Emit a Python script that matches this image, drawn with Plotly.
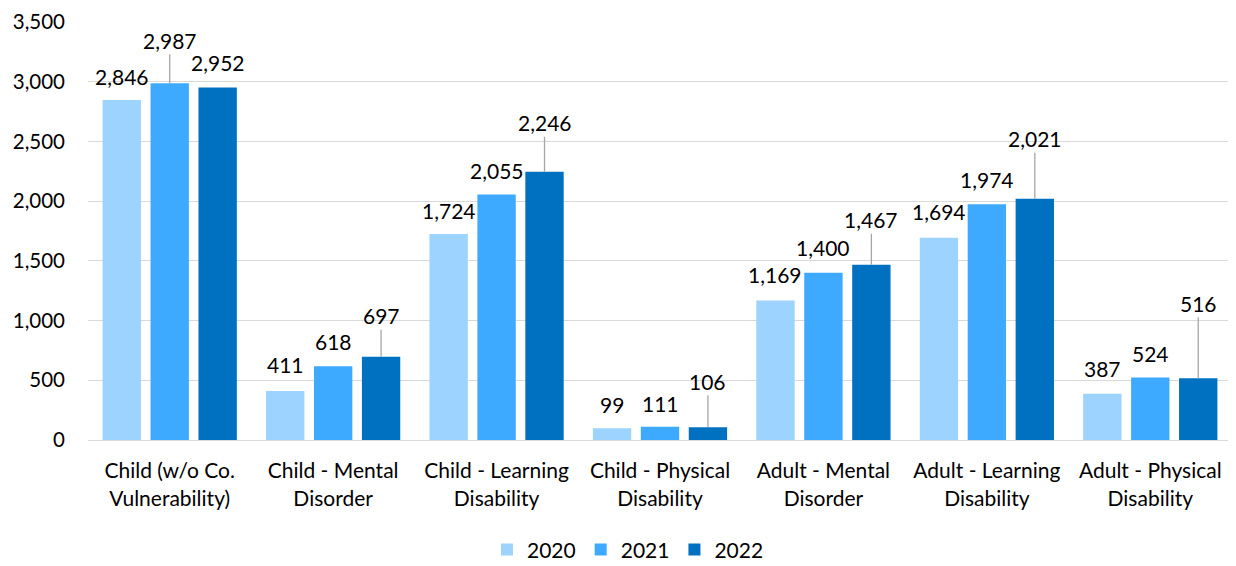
import plotly.graph_objects as go

categories = ["Child (w/o Co.<br>Vulnerability)", "Child - Mental<br>Disorder",
              "Child - Learning<br>Disability", "Child - Physical<br>Disability",
              "Adult - Mental<br>Disorder", "Adult - Learning<br>Disability",
              "Adult - Physical<br>Disability"]
years = ["2020", "2021", "2022"]
v2020 = [2846, 411, 1724, 99, 1169, 1694, 387]
v2021 = [2987, 618, 2055, 111, 1400, 1974, 524]
v2022 = [2952, 697, 2246, 106, 1467, 2021, 516]
series = [v2020, v2021, v2022]
colors = ["#9DD3FF", "#3DAAFF", "#0070C0"]

# label offset above bar top (px), and whether a leader line is drawn
label_off = [
    [24, 26, 24, 24, 26, 26, 25],
    [43, 25, 24, 23, 25, 25, 24],
    [25, 41, 49, 46, 45, 60, 75],
]
leader = [
    [False] * 7,
    [True, False, False, False, False, False, False],
    [False, True, True, True, True, True, True],
]

FONT = "Lato, Calibri, Carlito, Liberation Sans, sans-serif"
FS = 21
bargap = 0.12
bargroupgap = 0.2

fig = go.Figure()
for name, vals, col in zip(years, series, colors):
    fig.add_trace(go.Bar(name=name, x=categories, y=vals, marker_color=col,
                         marker_line_width=0))

slot = (1 - bargap) / len(series)
annotations = []
for s, vals in enumerate(series):
    for i, v in enumerate(vals):
        xpos = i + (s - (len(series) - 1) / 2) * slot
        txt = f"{v:,}"
        if leader[s][i]:
            annotations.append(dict(x=xpos, y=v, xref="x", yref="y", text=txt,
                                    showarrow=True, arrowhead=0, arrowwidth=1.3,
                                    arrowcolor="#A6A6A6", ax=0, ay=-label_off[s][i],
                                    standoff=0, font=dict(size=FS, color="#000", family=FONT)))
        else:
            annotations.append(dict(x=xpos, y=v, xref="x", yref="y", text=txt,
                                    showarrow=False, yshift=label_off[s][i],
                                    font=dict(size=FS, color="#000", family=FONT)))

fig.update_layout(
    width=1228, height=558,
    margin=dict(l=80, r=4, t=14, b=126, autoexpand=False),
    paper_bgcolor="white", plot_bgcolor="white",
    barmode="group", bargap=bargap, bargroupgap=bargroupgap,
    font=dict(family=FONT, size=FS, color="#000"),
    annotations=annotations,
    legend=dict(orientation="h", x=0.472, xanchor="center", y=-0.263, yanchor="middle",
                font=dict(size=FS), itemwidth=30, traceorder="normal"),
    showlegend=True,
)
fig.update_yaxes(range=[0, 3500], dtick=500, tickformat=",", showgrid=True,
                 gridcolor="#D9D9D9", gridwidth=1, zeroline=False, automargin=False,
                 showline=False, ticklabelstandoff=22, tickfont=dict(size=20.5),
                 ticklabeloverflow="allow")
fig.update_xaxes(showline=True, linecolor="#D9D9D9", linewidth=1, automargin=False,
                 tickfont=dict(size=FS), ticks="", ticklabelstandoff=12)

fig.write_html("out.html")
